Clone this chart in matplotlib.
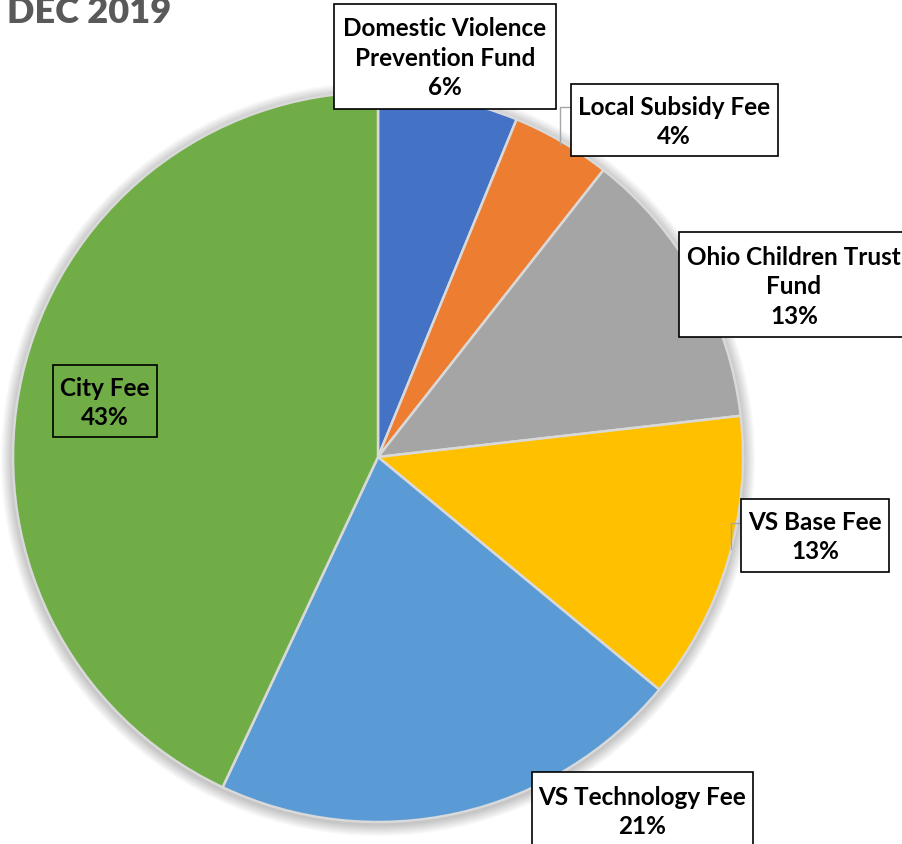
import matplotlib.pyplot as plt
from matplotlib.patches import Rectangle, Circle

categories = ["Domestic Violence\nPrevention Fund", "Local Subsidy Fee", "Ohio Children Trust\nFund",
              "VS Base Fee", "VS Technology Fee", "City Fee"]
values = [6.2, 4.4, 12.6, 12.8, 21.0, 43.0]
pct_labels = ["6%", "4%", "13%", "13%", "21%", "43%"]
colors = ["#4472C4", "#ED7D31", "#A5A5A5", "#FFC000", "#5B9BD5", "#70AD47"]

W, H = 902, 845
fig = plt.figure(figsize=(W / 100, H / 100), dpi=100)
ax = fig.add_axes([0, 0, 1, 1])

def py(y):
    # pixel row (from top) -> data y
    return H - y

cx, cy, r = 378, py(458), 365

# soft glow behind the pie
for i in range(10, 0, -1):
    ax.add_patch(Circle((cx, cy - 2), r + i * 1.2, color="black", alpha=0.025, lw=0, zorder=0))

ax.pie(values, colors=colors, startangle=90, counterclock=False, center=(cx, cy), radius=r,
       wedgeprops=dict(edgecolor="#d9d9d9", linewidth=1.8), frame=True)
ax.set_xlim(0, W)
ax.set_ylim(0, H)
ax.set_aspect("equal")
ax.axis("off")

font = dict(family=["Lato", "DejaVu Sans"], fontweight="bold", fontsize=17.5, color="black")

# label boxes: (x0, y0, x1, y1) in pixels, text centre, filled?
boxes = [
    ((334, 5, 556, 110), (445, 58), True),
    ((571, 85, 778, 157), (674, 122), True),
    ((679, 233, 910, 338), (794, 287), True),
    ((741, 500, 889, 573), (815, 537), True),
    ((532, 773, 753, 860), (642, 812), True),
    ((53, 366, 157, 438), (105, 403), False),
]

for (x0, y0, x1, y1), (tx, ty), filled in boxes:
    ax.add_patch(Rectangle((x0, py(y1)), x1 - x0, y1 - y0, facecolor="white" if filled else "none",
                           edgecolor="black", linewidth=1.2, zorder=5))

for (box, (tx, ty), filled), cat, pct in zip(boxes, categories, pct_labels):
    ax.text(tx, py(ty), cat + "\n" + pct, ha="center", va="center", linespacing=1.36, zorder=6, **font)

# leader lines
ax.plot([571, 560, 560], [py(108), py(108), py(145)], color="#a6a6a6", lw=1, zorder=4)
ax.plot([741, 731, 731], [py(524), py(524), py(550)], color="#a6a6a6", lw=1, zorder=4)

ax.text(7, py(23), "DEC 2019", ha="left", va="baseline", fontsize=26, fontweight="heavy",
        color="#595959", family=["Lato", "DejaVu Sans"])

fig.savefig("out.png", dpi=100)
